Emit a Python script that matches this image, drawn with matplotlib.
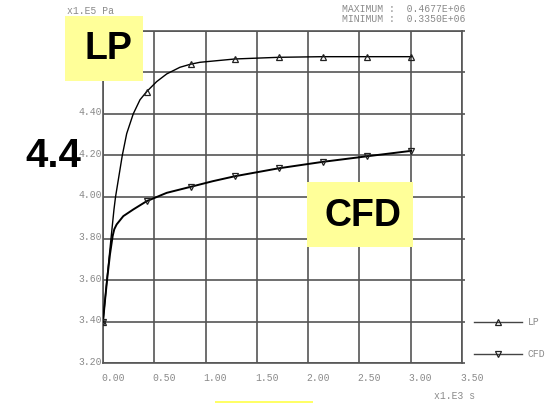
import matplotlib
matplotlib.use("Agg")
import matplotlib.pyplot as plt
from matplotlib.patches import Rectangle
from matplotlib.lines import Line2D
from matplotlib.transforms import ScaledTranslation

# ---- data ----
lp_t = [0.0, 0.038, 0.078, 0.107, 0.122, 0.155, 0.188, 0.231, 0.295, 0.361, 0.426, 0.523,
        0.621, 0.750, 0.855, 0.945, 1.287, 1.712, 2.141, 2.576, 3.005]
lp_p = [3.40, 3.60, 3.80, 3.94, 4.00, 4.10, 4.20, 4.305, 4.40, 4.468, 4.507, 4.555,
        4.592, 4.624, 4.639, 4.648, 4.664, 4.672, 4.675, 4.675, 4.675]
lp_mark_t = [0.0, 0.426, 0.855, 1.287, 1.712, 2.141, 2.576, 3.005]
lp_mark_p = [3.40, 4.507, 4.639, 4.664, 4.672, 4.675, 4.675, 4.675]

cfd_t = [0.0, 0.019, 0.042, 0.068, 0.094, 0.110, 0.133, 0.198, 0.295, 0.426, 0.621, 0.855,
         1.070, 1.287, 1.712, 2.141, 2.576, 3.005]
cfd_p = [3.40, 3.50, 3.612, 3.724, 3.812, 3.845, 3.868, 3.908, 3.940, 3.980, 4.020, 4.049,
         4.076, 4.100, 4.138, 4.169, 4.196, 4.222]
cfd_mark_t = [0.0, 0.426, 0.855, 1.287, 1.712, 2.141, 2.576, 3.005]
cfd_mark_p = [3.40, 3.980, 4.049, 4.100, 4.138, 4.169, 4.196, 4.222]

x_ticks = [0.0, 0.5, 1.0, 1.5, 2.0, 2.5, 3.0, 3.5]
x_labels = ["0.00", "0.50", "1.00", "1.50", "2.00", "2.50", "3.00", "3.50"]
y_ticks = [3.2, 3.4, 3.6, 3.8, 4.0, 4.2, 4.4, 4.6, 4.8]
y_labels = ["3.20", "3.40", "3.60", "3.80", "4.00", "4.20", "4.40", "", ""]

W, H = 552, 403
fig = plt.figure(figsize=(W / 100, H / 100), dpi=100)
fig.patch.set_facecolor("white")

def fx(x):
    return x / W

def fy(y):
    return 1 - y / H

L, R, T, B = 103, 462, 30.7, 363.3
ax = fig.add_axes([fx(L), fy(B), fx(R) - fx(L), fy(T) - fy(B)])

mono = "Liberation Mono"
gray_txt = "#8a8a8a"
grid_c = "#555555"

ax.plot(lp_t, lp_p, color="black", lw=1.0, zorder=3)
ax.plot(lp_mark_t, lp_mark_p, ls="none", marker="^", ms=5, mfc="none", mec="#222222", mew=0.9, zorder=4)
ax.plot(cfd_t, cfd_p, color="black", lw=1.4, zorder=3)
ax.plot(cfd_mark_t, cfd_mark_p, ls="none", marker="v", ms=5, mfc="none", mec="#222222", mew=0.9, zorder=4)

ax.set_xlim(0, 3.5)
ax.set_ylim(3.2, 4.8)
ax.set_xticks(x_ticks)
ax.set_xticklabels(x_labels, fontfamily=mono, fontsize=7, color=gray_txt, ha="left")
ax.set_yticks(y_ticks)
ax.set_yticklabels(y_labels, fontfamily=mono, fontsize=7, color=gray_txt)
ax.tick_params(axis="x", length=0, pad=7)
ax.tick_params(axis="y", length=0, pad=0.5)
for lab in ax.get_xticklabels():
    lab.set_transform(lab.get_transform() + ScaledTranslation(-2 / 100, 0, fig.dpi_scale_trans))
for lab in ax.get_yticklabels():
    lab.set_transform(lab.get_transform() + ScaledTranslation(0, 2.5 / 100, fig.dpi_scale_trans))
ax.grid(True, color=grid_c, lw=1.2)
for s in ax.spines.values():
    s.set_color(grid_c)
    s.set_linewidth(1.2)

# small outward tick stubs on the right of the frame
ax2 = ax.twinx()
ax2.set_ylim(3.2, 4.8)
ax2.set_yticks(y_ticks)
ax2.set_yticklabels([])
ax2.tick_params(axis="y", length=2.5, color=grid_c, width=1.2)
for s in ax2.spines.values():
    s.set_visible(False)

# header and axis unit texts
fig.text(fx(67), fy(11), "x1.E5 Pa", fontfamily=mono, fontsize=7, color=gray_txt, va="center", ha="left")
fig.text(fx(342), fy(9), "MAXIMUM :  0.4677E+06", fontfamily=mono, fontsize=7, color=gray_txt, va="center", ha="left")
fig.text(fx(342), fy(19), "MINIMUM :  0.3350E+06", fontfamily=mono, fontsize=7, color=gray_txt, va="center", ha="left")
fig.text(fx(434), fy(396), "x1.E3 s", fontfamily=mono, fontsize=7, color=gray_txt, va="center", ha="left")

# legend
for yy, mk, name in [(321.7, "^", "LP"), (354, "v", "CFD")]:
    fig.add_artist(Line2D([fx(474), fx(522)], [fy(yy), fy(yy)], color="#444444", lw=1.0, transform=fig.transFigure))
    fig.add_artist(Line2D([fx(498)], [fy(yy)], marker=mk, ms=5, mfc="none", mec="#222222", mew=0.9, transform=fig.transFigure))
    fig.text(fx(528), fy(yy), name, fontfamily=mono, fontsize=7, color=gray_txt, va="center", ha="left")

# yellow annotation boxes
yellow = "#ffff99"
fig.add_artist(Rectangle((fx(65), fy(81)), fx(143) - fx(65), fy(16) - fy(81), facecolor=yellow, edgecolor="none", transform=fig.transFigure, zorder=5))
fig.text(fx(108), fy(49), "LP", fontfamily="Liberation Sans", fontweight="bold", fontsize=27, color="black", ha="center", va="center", zorder=6)
fig.add_artist(Rectangle((fx(307), fy(247)), fx(413) - fx(307), fy(182) - fy(247), facecolor=yellow, edgecolor="none", transform=fig.transFigure, zorder=5))
fig.text(fx(363.5), fy(216), "CFD", fontfamily="Liberation Sans", fontweight="bold", fontsize=27, color="black", ha="center", va="center", zorder=6)
fig.add_artist(Rectangle((fx(215), fy(403)), fx(313) - fx(215), fy(401) - fy(403), facecolor="#ffff66", edgecolor="none", transform=fig.transFigure, zorder=5))

fig.text(fx(53), fy(156), "4.4", fontfamily="Liberation Sans", fontweight="bold", fontsize=29, color="black", ha="center", va="center", zorder=6)

fig.savefig("out.png", dpi=100)
